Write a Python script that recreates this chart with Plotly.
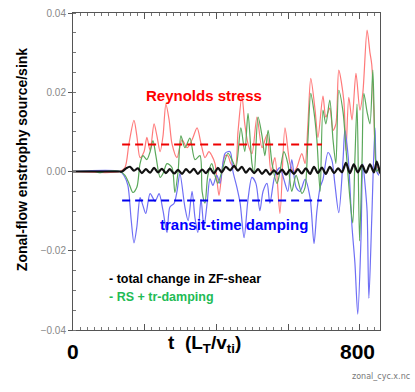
import plotly.graph_objects as go

# ---- data (t in L_T/v_ti, values = enstrophy source/sink) ----
rs_t = [0, 131, 145, 156, 170, 178, 187, 198, 206, 215, 226, 234, 243, 251, 259, 268, 276, 290, 304, 318,
        332, 346, 357, 368, 379, 387, 396, 407, 418, 424, 432, 440, 452, 460, 471, 479, 488, 499, 513, 527,
        541, 552, 563, 577, 591, 605, 616, 624, 638, 647, 655, 663, 675, 683, 697, 705, 716, 725, 733, 741,
        755, 761, 769, 778, 789, 800, 808, 820, 828, 833, 839, 845, 853]
rs_v = [0, 0, 0.001, 0.007, 0.0129, 0.009, 0.0035, 0.005, 0.0086, 0.0053, 0.012, 0.009, 0.005, 0.009, 0.017,
        0.013, 0.007, 0.0035, 0.008, 0.006, 0.008, 0.011, 0.007, 0.0035, 0.005, 0.004, 0.002, -0.006, 0.002,
        0.004, 0.004, 0.002, 0.001, 0.01, 0.019, 0.012, 0.007, 0.0045, 0.0137, 0.006, 0.0093, 0.0, 0.0035,
        -0.0106, 0.011, 0.002, 0.0, 0.001, 0.0045, 0.002, 0.012, 0.0235, 0.0155, 0.0086, 0.019, 0.0137, 0.016,
        0.0104, 0.012, 0.0256, 0.018, 0.0053, 0.0187, 0.013, 0.0248, 0.0155, 0.0197, 0.0357, 0.030, 0.027,
        0.015, 0.002, 0.0005]

td_t = [0, 131, 142, 153, 162, 170, 178, 187, 195, 203, 215, 229, 240, 251, 262, 270, 282, 290, 298, 312,
        321, 332, 340, 348, 357, 365, 374, 382, 390, 401, 410, 424, 438, 446, 457, 466, 477, 488, 499, 510,
        521, 530, 541, 549, 563, 577, 588, 599, 610, 622, 633, 647, 661, 672, 680, 689, 697, 711, 722, 730,
        741, 753, 758, 767, 778, 786, 794, 803, 808, 814, 820, 825, 833, 842, 847, 853]
td_v = [0, 0, -0.001, -0.0035, -0.012, -0.018, -0.014, -0.0066, -0.0086, -0.0106, -0.0056, -0.0075, -0.0056,
        -0.0099, -0.0154, -0.009, -0.008, -0.005, -0.0005, -0.009, -0.0124, -0.005, -0.0116, -0.0154, -0.007,
        -0.014, -0.008, -0.0018, -0.0035, -0.001, -0.003, 0.0046, 0.005, 0.0, -0.004, -0.008, -0.0167, -0.007,
        -0.0015, -0.003, -0.0099, -0.005, -0.003, -0.008, -0.001, 0.001, -0.002, -0.005, 0.003, -0.004, -0.005,
        -0.002, -0.0066, -0.0182, -0.01, -0.004, -0.002, 0.0048, 0.0028, -0.003, -0.0104, 0.003, 0.0104, 0.004,
        -0.014, -0.023, -0.036, -0.017, 0.002, -0.003, -0.01, -0.032, -0.012, 0.011, 0.0, -0.001]

sum_t = [0, 61, 75, 89, 131, 145, 156, 167, 178, 187, 195, 206, 215, 223, 231, 243, 251, 262, 276, 284, 293,
         301, 312, 326, 340, 354, 360, 368, 376, 387, 396, 404, 415, 432, 443, 454, 468, 479, 488, 499, 505,
         516, 527, 535, 544, 555, 569, 577, 588, 599, 610, 622, 638, 647, 655, 663, 672, 680, 689, 697, 705,
         716, 725, 733, 741, 753, 761, 772, 780, 786, 792, 799, 806, 811, 820, 828, 836, 842, 847, 853]
sum_v = [0, 0, -0.0003, 0, 0, -0.001, -0.003, -0.0053, -0.004, 0.002, 0.004, 0.003, 0.005, 0.0078, 0.004,
         -0.0015, -0.0005, 0.002, 0.001, -0.0053, 0.0, 0.009, 0.006, 0.0084, 0.003, 0.004, -0.005, -0.008,
         -0.001, 0.002, -0.001, -0.003, 0.0, 0.0046, 0.003, 0.001, 0.011, 0.005, 0.0147, 0.002, -0.0005, 0.0137,
         0.009, 0.004, 0.0104, 0.002, -0.003, 0.0, 0.005, 0.002, -0.005, -0.001, -0.0055, -0.004, 0.008, 0.0197,
         0.015, 0.008, -0.005, 0.0155, 0.012, 0.018, 0.008, 0.002, 0.0205, 0.015, 0.006, -0.0066, -0.013, 0.003,
         0.017, -0.0175, 0.003, 0.0197, 0.015, 0.012, 0.0256, 0.006, 0.0, 0.001]

tot_t = [0, 131, 137, 148, 159, 170, 181, 192, 203, 215, 226, 237, 248, 259, 270, 282, 293, 304, 315, 326,
         337, 348, 360, 371, 382, 393, 404, 415, 426, 438, 449, 460, 471, 482, 493, 505, 516, 527, 538, 549,
         560, 571, 583, 594, 605, 616, 627, 638, 649, 661, 672, 683, 694, 705, 716, 728, 739, 750, 761, 772,
         783, 794, 806, 817, 828, 839, 847, 856]
tot_v = [0, 0, 0.0, 0.0008, 0.0012, 0.0002, 0.0008, -0.0004, 0.0006, -0.0003, 0.0009, -0.0002, 0.0007, -0.0004,
         0.0006, -0.0005, 0.0004, -0.0006, 0.0006, -0.0003, 0.0007, -0.0006, 0.0005, -0.0004, 0.0008, -0.0005,
         0.0009, -0.0002, 0.0012, 0.0003, 0.0014, 0.0002, 0.0012, -0.0003, 0.0008, -0.0004, 0.0006, -0.0006,
         0.0004, -0.0008, 0.0003, -0.0006, 0.0005, -0.0008, 0.0004, -0.0006, 0.0006, -0.0005, 0.0008, -0.0006,
         0.0012, -0.0004, 0.001, -0.0006, 0.0012, -0.0004, 0.0008, -0.0002, 0.0022, -0.0004, 0.0018, -0.0002,
         0.0016, -0.0003, 0.0018, -0.0002, 0.0025, -0.0005]

mean_t = [137, 694]
rs_mean = [0.0068, 0.0068]
td_mean = [-0.0073, -0.0073]

y_ticks = [-0.04, -0.02, 0.0, 0.02, 0.04]

FONT = "Liberation Sans, Arial, sans-serif"

fig = go.Figure()
fig.add_trace(go.Scatter(x=rs_t, y=rs_v, mode="lines", line=dict(color="#ff7a7a", width=1.2, shape="spline", smoothing=0.8)))
fig.add_trace(go.Scatter(x=td_t, y=td_v, mode="lines", line=dict(color="#6f6ff5", width=1.2, shape="spline", smoothing=0.8)))
fig.add_trace(go.Scatter(x=sum_t, y=sum_v, mode="lines", line=dict(color="#5aa85a", width=1.2, shape="spline", smoothing=0.8)))
fig.add_trace(go.Scatter(x=tot_t, y=tot_v, mode="lines", line=dict(color="#111111", width=2.2, shape="spline", smoothing=0.8)))
fig.add_trace(go.Scatter(x=mean_t, y=rs_mean, mode="lines", line=dict(color="#ee0000", width=2, dash="8px,5px")))
fig.add_trace(go.Scatter(x=mean_t, y=td_mean, mode="lines", line=dict(color="#0000ee", width=2, dash="8px,5px")))

ann = [
    dict(x=365, y=0.0192, xref="x", yref="y", text="<b>Reynolds stress</b>", showarrow=False,
         font=dict(color="#ff0000", size=15, family=FONT)),
    dict(x=449, y=-0.0134, xref="x", yref="y", text="<b>transit-time damping</b>", showarrow=False,
         font=dict(color="#0000ff", size=15, family=FONT)),
    dict(x=95, y=-0.0271, xref="x", yref="y", text="<b>- total change in ZF-shear</b>", showarrow=False,
         xanchor="left", font=dict(color="#000000", size=12.5, family=FONT)),
    dict(x=95, y=-0.0316, xref="x", yref="y", text="<b>- RS + tr-damping</b>", showarrow=False,
         xanchor="left", font=dict(color="#22bb55", size=12.5, family=FONT)),
    dict(x=0.0, y=-0.069, xref="paper", yref="paper", xanchor="center", yanchor="middle",
         text="<b>0</b>", showarrow=False, font=dict(color="#000000", size=21, family=FONT)),
    dict(x=0.427, y=-0.045, xref="paper", yref="paper", xanchor="center", yanchor="middle",
         text="<b>t  (L<sub>T</sub>/v<sub>ti</sub>)</b>",
         showarrow=False, font=dict(color="#000000", size=19, family=FONT)),
    dict(x=0.928, y=-0.069, xref="paper", yref="paper", xanchor="center", yanchor="middle",
         text="<b>800</b>", showarrow=False, font=dict(color="#000000", size=21, family=FONT)),
    dict(x=1.104, y=-0.148, xref="paper", yref="paper", text="zonal_cyc.x.nc", showarrow=False,
         xanchor="right", yanchor="middle", font=dict(color="#777777", size=8, family="DejaVu Sans, sans-serif")),
    dict(x=-0.166, y=0.536, xref="paper", yref="paper", xanchor="center", yanchor="middle",
         text="<b>Zonal-flow enstrophy source/sink</b>",
         showarrow=False, textangle=-90, font=dict(color="#000000", size=14, family=FONT)),
]

fig.update_layout(
    width=415, height=392,
    margin=dict(l=73, r=35, t=13, b=62, autoexpand=False),
    paper_bgcolor="white", plot_bgcolor="white",
    showlegend=False,
    font=dict(family=FONT),
    annotations=ann,
)
fig.update_xaxes(
    range=[0, 856], showgrid=False, zeroline=False, showticklabels=False, automargin=False,
    showline=True, linecolor="#555555", linewidth=1, mirror="ticks",
    ticks="inside", tickcolor="#555555", ticklen=6, dtick=200, tick0=0,
    minor=dict(ticks="inside", ticklen=3, dtick=20, tickcolor="#777777"),
)
fig.update_yaxes(
    range=[-0.04, 0.04], showgrid=False, zeroline=False, automargin=False,
    tickvals=y_ticks, tickformat=".2f",
    tickfont=dict(color="#888888", size=10, family=FONT),
    showline=True, linecolor="#555555", linewidth=1, mirror=True,
    ticks="outside", tickcolor="#555555", ticklen=4,
    minor=dict(ticks="inside", ticklen=3, dtick=0.005, tickcolor="#777777"),
)

fig.write_html("out.html", config={"displayModeBar": False},
               post_script="document.body.style.margin='0px';document.body.style.overflow='hidden';")
